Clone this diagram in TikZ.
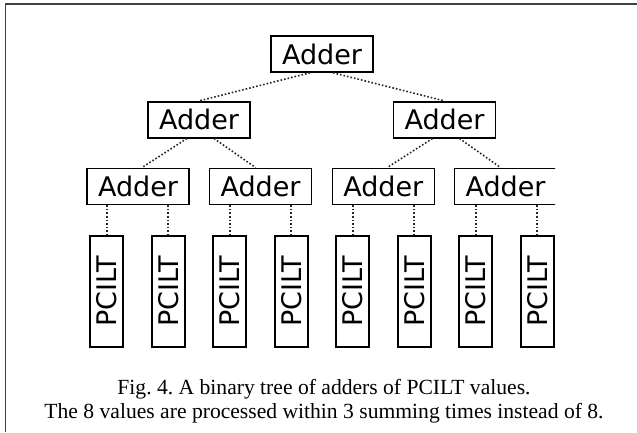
\documentclass[tikz,border=0pt]{standalone}
\usepackage{fontspec}
\setmainfont{Liberation Serif}
\newfontfamily\boxfont{DejaVu Sans}
\usepackage{tikz}
\frenchspacing

\tikzset{
  adder/.style={draw, line width=1.6pt, minimum width=102pt, minimum height=36pt,
    inner sep=0pt, font=\boxfont\fontsize{27}{30}\selectfont},
  pcilt/.style={draw, line width=1.6pt, minimum width=111pt, minimum height=33pt,
    inner sep=0pt, rotate=90, font=\boxfont\fontsize{27}{30}\selectfont},
  link/.style={dotted, line width=1.6pt, black!85},
  caption/.style={anchor=base, inner sep=0pt, font=\fontsize{21.6}{24}\selectfont}
}

\begin{document}
\begin{tikzpicture}[x=1pt, y=-1pt]
				\useasboundingbox (0,0) rectangle (637,432);
				% page frame (cut off at right and bottom)
				\draw [line width=1.6pt, black!75] (637,4) -- (5.5,4) -- (5.5,432);
				\begin{scope}
				\clip (0,0) rectangle (555,432);
				% adders
				\node [adder] (top) at (322,54) {Adder};
				\node [adder] (l) at (199,119.7) {Adder};
				\node [adder] (r) at (444.5,119.7) {Adder};
				\node [adder] (ll) at (138,186.3) {Adder};
				\node [adder] (lr) at (260.5,186.3) {Adder};
				\node [adder] (rl) at (383.3,186.3) {Adder};
				\node [adder] (rr) at (505.5,186.3) {Adder};
				% lookup tables
				\foreach \i in {1,...,8}
					\node [pcilt] (p\i) at (106.7+61.5*\i-61.5,291.3) {PCILT};
				% links
				\draw [link] ([xshift=-12pt]top.south) -- (l.north);
				\draw [link] ([xshift=11pt]top.south) -- (r.north);
				\draw [link] ([xshift=-12pt]l.south) -- ([xshift=4pt]ll.north);
				\draw [link] ([xshift=15pt]l.south) -- ([xshift=-5pt]lr.north);
				\draw [link] ([xshift=-12pt]r.south) -- ([xshift=4pt]rl.north);
				\draw [link] ([xshift=15pt]r.south) -- ([xshift=-5pt]rr.north);
				\draw [link] (ll.south -| p1.east) -- (p1.east);
				\draw [link] (ll.south -| p2.east) -- (p2.east);
				\draw [link] (lr.south -| p3.east) -- (p3.east);
				\draw [link] (lr.south -| p4.east) -- (p4.east);
				\draw [link] (rl.south -| p5.east) -- (p5.east);
				\draw [link] (rl.south -| p6.east) -- (p6.east);
				\draw [link] (rr.south -| p7.east) -- (p7.east);
				\draw [link] (rr.south -| p8.east) -- (p8.east);
				\end{scope}
				% caption
				\node [caption] (cap1) at (324,394.3) {Fig. 4. A binary tree of adders of PCILT values.};
				\node [caption] (cap2) at (324,418.3) {The 8 values are processed within 3 summing times instead of 8.};
\end{tikzpicture}
\end{document}
